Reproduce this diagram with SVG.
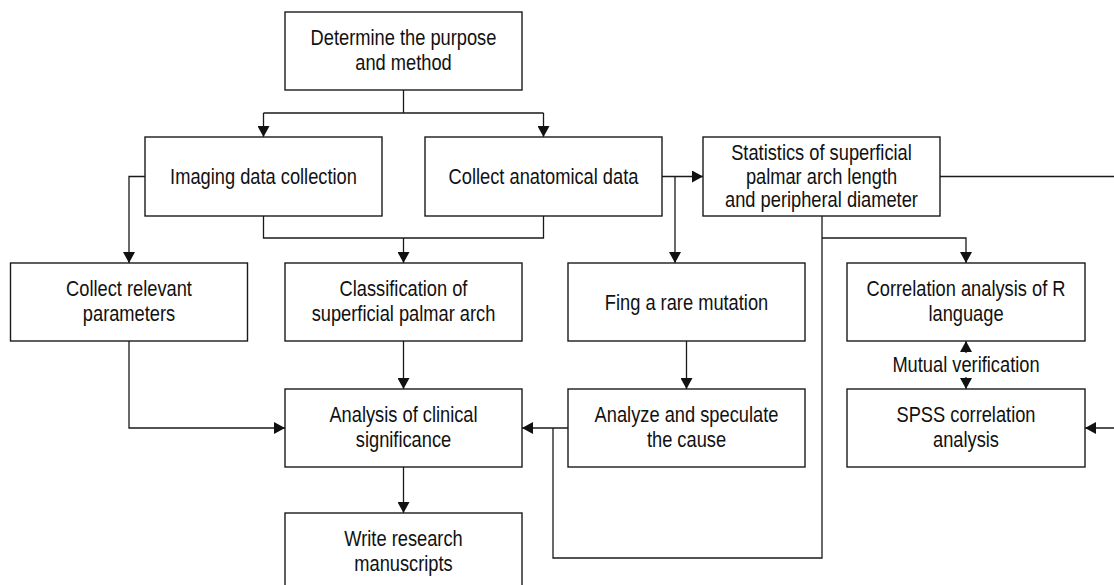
<svg xmlns="http://www.w3.org/2000/svg" width="1114" height="585" viewBox="0 0 1114 585">
<style>
.box{fill:#fff;stroke:#1a1a1a;stroke-width:1.4}
.lbl{font-family:"Liberation Sans",Arial,sans-serif;font-size:21.5px;fill:#111;text-anchor:middle}
.c{fill:none;stroke:#1a1a1a;stroke-width:1.3}
</style>
<defs>
<marker id="ah" viewBox="0 0 11 12" refX="11" refY="6" markerWidth="11" markerHeight="12" markerUnits="userSpaceOnUse" orient="auto">
<path d="M0,0 L11,6 L0,12 z" fill="#111"/>
</marker>
</defs>
<rect width="1114" height="585" fill="#fff"/>
<g id="connectors">
<path class="c" d="M403.5,90 V113 M263.5,113 H543.5"/>
<path class="c" d="M263.5,113 V137" marker-end="url(#ah)"/>
<path class="c" d="M543.5,113 V137" marker-end="url(#ah)"/>
<path class="c" d="M263.5,216 V238 H543.5 V216"/>
<path class="c" d="M403.5,238 V263" marker-end="url(#ah)"/>
<path class="c" d="M145,176.5 H129 V263" marker-end="url(#ah)"/>
<path class="c" d="M662,176.5 H703" marker-end="url(#ah)"/>
<path class="c" d="M675,176.5 V263" marker-end="url(#ah)"/>
<path class="c" d="M686.5,341 V389" marker-end="url(#ah)"/>
<path class="c" d="M940,176.5 H1117 V428 H1085" marker-end="url(#ah)"/>
<path class="c" d="M822,216 V558 H553 V428"/>
<path class="c" d="M822,238 H966 V263" marker-end="url(#ah)"/>
<path class="c" d="M568,428 H522" marker-end="url(#ah)"/>
<path class="c" d="M129,341 V428 H285" marker-end="url(#ah)"/>
<path class="c" d="M403.5,341 V389" marker-end="url(#ah)"/>
<path class="c" d="M403.5,467 V513" marker-end="url(#ah)"/>
<path class="c" d="M966,353 V341" marker-end="url(#ah)"/>
<path class="c" d="M966,377 V389" marker-end="url(#ah)"/>
<text class="lbl" transform="translate(966,372) scale(0.85,1)">Mutual verification</text>
</g>
<g id="n-determine">
<rect class="box" x="285" y="12" width="237" height="78"/>
<text class="lbl" transform="translate(403.5,45) scale(0.85,1)">Determine the purpose</text>
<text class="lbl" transform="translate(403.5,70) scale(0.85,1)">and method</text>
</g>
<g id="n-imaging">
<rect class="box" x="145" y="137" width="237" height="79"/>
<text class="lbl" transform="translate(263.5,183.5) scale(0.85,1)">Imaging data collection</text>
</g>
<g id="n-anatomical">
<rect class="box" x="425" y="137" width="237" height="79"/>
<text class="lbl" transform="translate(543.5,183.5) scale(0.85,1)">Collect anatomical data</text>
</g>
<g id="n-statistics">
<rect class="box" x="703" y="137" width="237" height="79"/>
<text class="lbl" transform="translate(821.5,160) scale(0.85,1)">Statistics of superficial</text>
<text class="lbl" transform="translate(821.5,183.5) scale(0.85,1)">palmar arch length</text>
<text class="lbl" transform="translate(821.5,207) scale(0.85,1)">and peripheral diameter</text>
</g>
<g id="n-relevant">
<rect class="box" x="10.5" y="263" width="237" height="78"/>
<text class="lbl" transform="translate(129,296) scale(0.85,1)">Collect relevant</text>
<text class="lbl" transform="translate(129,321) scale(0.85,1)">parameters</text>
</g>
<g id="n-classification">
<rect class="box" x="285" y="263" width="237" height="78"/>
<text class="lbl" transform="translate(403.5,296) scale(0.85,1)">Classification of</text>
<text class="lbl" transform="translate(403.5,321) scale(0.85,1)">superficial palmar arch</text>
</g>
<g id="n-fing">
<rect class="box" x="568" y="263" width="237" height="78"/>
<text class="lbl" transform="translate(686.5,309.5) scale(0.85,1)">Fing a rare mutation</text>
</g>
<g id="n-correlation">
<rect class="box" x="847" y="263" width="238" height="78"/>
<text class="lbl" transform="translate(966,296) scale(0.85,1)">Correlation analysis of R</text>
<text class="lbl" transform="translate(966,321) scale(0.85,1)">language</text>
</g>
<g id="n-analysis">
<rect class="box" x="285" y="389" width="237" height="78"/>
<text class="lbl" transform="translate(403.5,422) scale(0.85,1)">Analysis of clinical</text>
<text class="lbl" transform="translate(403.5,447) scale(0.85,1)">significance</text>
</g>
<g id="n-analyze">
<rect class="box" x="568" y="389" width="237" height="78"/>
<text class="lbl" transform="translate(686.5,422) scale(0.85,1)">Analyze and speculate</text>
<text class="lbl" transform="translate(686.5,447) scale(0.85,1)">the cause</text>
</g>
<g id="n-spss">
<rect class="box" x="847" y="389" width="238" height="78"/>
<text class="lbl" transform="translate(966,422) scale(0.85,1)">SPSS correlation</text>
<text class="lbl" transform="translate(966,447) scale(0.85,1)">analysis</text>
</g>
<g id="n-write">
<rect class="box" x="285" y="513" width="237" height="80"/>
<text class="lbl" transform="translate(403.5,546) scale(0.85,1)">Write research</text>
<text class="lbl" transform="translate(403.5,571) scale(0.85,1)">manuscripts</text>
</g>
</svg>
